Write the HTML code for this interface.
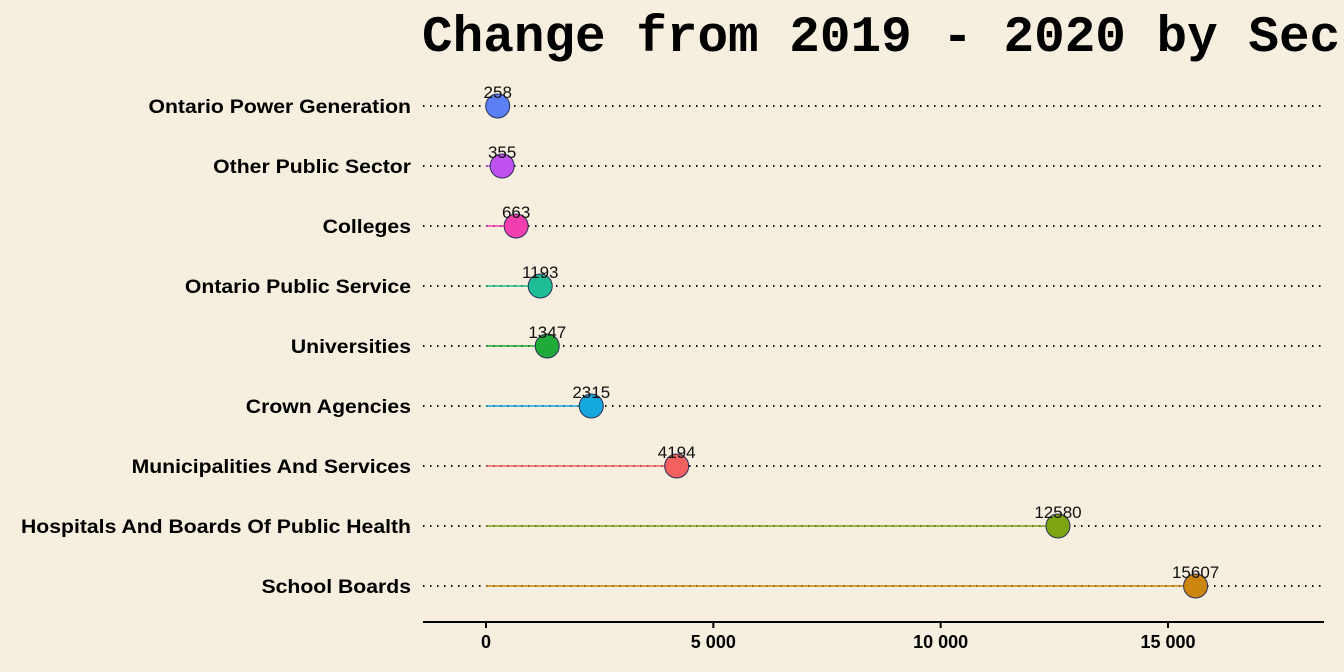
<!DOCTYPE html>
<html><head><meta charset="utf-8"><style>
html,body{margin:0;padding:0;background:#f6efdf;}
svg{display:block;}
</style></head><body>
<svg id="chart" width="1344" height="672" xmlns="http://www.w3.org/2000/svg">
<rect width="1344" height="672" fill="#f6efdf"/>
<text x="422" y="51" font-family="Liberation Mono, monospace" font-weight="bold" font-size="51" fill="#000">Change from 2019 - 2020 by Sector</text>
<g id="plot"></g>
</svg>
<script>
const categories = ["Ontario Power Generation","Other Public Sector","Colleges","Ontario Public Service","Universities","Crown Agencies","Municipalities And Services","Hospitals And Boards Of Public Health","School Boards"];
const values = [258,355,663,1193,1347,2315,4194,12580,15607];
const colors = ["#5b7ff5","#c052f0","#f23fb0","#1fbd95","#1faa3a","#15a8de","#f26060","#7fa412","#cc8610"];
const ticks = [0,5000,10000,15000];
const tickLabels = ["0","5 000","10 000","15 000"];
const NS="http://www.w3.org/2000/svg";
const g=document.getElementById('plot');
const x0=486, pxPer=(1168-486)/15000;
function xs(v){return x0+v*pxPer;}
function ys(i){return 106+i*60;}
function mk(t,a){const e=document.createElementNS(NS,t);for(const k in a)e.setAttribute(k,a[k]);g.appendChild(e);return e;}
categories.forEach((c,i)=>{
  const y=ys(i);
  let e=mk('line',{x1:423,x2:1324,y1:y,y2:y,stroke:'#111','stroke-width':2,'stroke-dasharray':'1.5 5.5'});
  
  
  e=mk('line',{x1:xs(0),x2:xs(values[i]),y1:y,y2:y,stroke:colors[i],'stroke-width':1.5});
  
  
  e=mk('circle',{cx:xs(values[i]),cy:y,r:12,fill:colors[i],stroke:'#2a2f55','stroke-width':1});
  
  
  e=mk('text',{x:xs(values[i]),y:y-8,'text-anchor':'middle','font-family':'Liberation Sans, sans-serif','font-size':17,fill:'#111'});
  e.textContent=values[i];
  
  
  e=mk('text',{x:411,y:y+7,'text-anchor':'end','font-family':'Liberation Sans, sans-serif','font-weight':'bold','font-size':19,fill:'#000'});
  e.textContent=c;
  
  
  const L=e.getComputedTextLength();
  e.setAttribute('textLength',(L*1.115).toFixed(1));
  e.setAttribute('lengthAdjust','spacingAndGlyphs');
});
let ax=mk('line',{x1:423,x2:1324,y1:622,y2:622,stroke:'#000','stroke-width':2});


ticks.forEach((t,i)=>{
  let e=mk('line',{x1:xs(t),x2:xs(t),y1:622,y2:628,stroke:'#000','stroke-width':2});
  
  
  e=mk('text',{x:xs(t),y:648,'text-anchor':'middle','font-family':'Liberation Sans, sans-serif','font-weight':'bold','font-size':18,fill:'#000'});
  e.textContent=tickLabels[i];
  
  
});
</script>
</body></html>
